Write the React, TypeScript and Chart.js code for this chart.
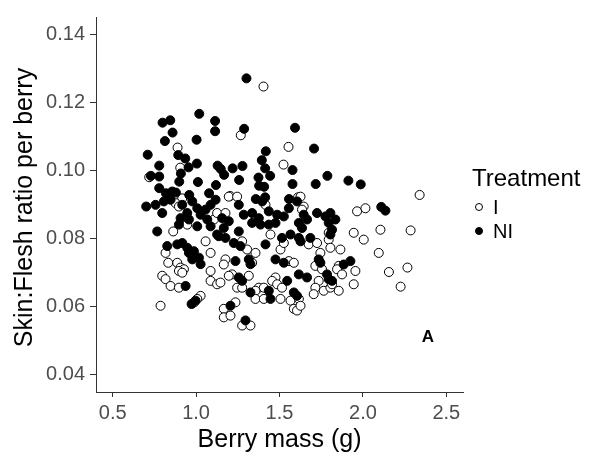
import React, { useEffect, useRef } from "react";
import { Chart, registerables } from "chart.js";

Chart.register(...registerables);

const xTicks = [0.5, 1.0, 1.5, 2.0, 2.5];
const yTicks = [0.04, 0.06, 0.08, 0.1, 0.12, 0.14];
const legendTitle = "Treatment";
const seriesNames = ["I", "NI"];
const xTitle = "Berry mass (g)";
const yTitle = "Skin:Flesh ratio per berry";
const panelLabel = "A";
const panelLabelPos = [2.39, 0.051];

// Treatment I (open circles)
const iMass = [
  0.889, 0.905, 0.719, 1.204, 1.268, 1.404, 1.554, 1.524, 1.611, 2.34,
  0.917, 0.877, 0.897, 0.947, 0.863, 1.057, 1.087, 1.107, 1.126, 0.817,
  0.833, 0.887, 0.907, 0.927, 0.897, 0.917, 0.797, 0.817, 0.847, 0.897,
  1.087, 1.087, 1.126, 0.787, 1.027, 1.007, 0.989, 1.196, 1.246, 1.176,
  1.416, 1.446, 1.276, 1.306, 1.356, 1.506, 1.526, 1.176, 1.166, 1.216,
  1.336, 1.556, 1.586, 1.476, 1.456, 1.486, 1.376, 1.406, 1.356, 1.146,
  1.196, 1.246, 1.276, 1.316, 1.515, 1.356, 1.406, 1.506, 1.566, 1.586,
  1.605, 1.166, 1.166, 1.206, 1.276, 1.326, 1.236, 1.626, 1.645, 1.635,
  1.965, 2.015, 1.945, 2.005, 1.795, 1.795, 1.805, 1.865, 1.675, 1.725,
  1.745, 2.095, 2.105, 1.715, 1.755, 1.855, 1.845, 1.955, 1.945, 1.735,
  1.715, 1.705, 1.765, 1.805, 1.855, 1.815, 1.875, 1.616, 1.626, 2.286,
  2.156, 2.267, 2.226,
];
const iRatio = [
  0.1067, 0.1008, 0.098, 0.0925, 0.1103, 0.1246, 0.1069, 0.1017, 0.0921, 0.0928,
  0.0918, 0.0904, 0.0894, 0.0841, 0.0821, 0.0792, 0.0758, 0.0856, 0.0875, 0.0758,
  0.0729, 0.0729, 0.0715, 0.071, 0.0705, 0.07, 0.0691, 0.0681, 0.0661, 0.0656,
  0.0705, 0.0676, 0.0666, 0.0603, 0.0632, 0.0623, 0.0613, 0.0923, 0.0923, 0.0875,
  0.0899, 0.0812, 0.0792, 0.0768, 0.0758, 0.0768, 0.0787, 0.0739, 0.0724, 0.0695,
  0.0729, 0.0734, 0.0729, 0.0686, 0.0676, 0.0666, 0.0656, 0.0656, 0.0647, 0.0671,
  0.0691, 0.0656, 0.0656, 0.0691, 0.0656, 0.0623, 0.0623, 0.0623, 0.0618, 0.0594,
  0.0589, 0.0594, 0.0569, 0.0574, 0.0545, 0.0545, 0.0613, 0.0923, 0.0894, 0.0885,
  0.088, 0.0889, 0.0817, 0.0797, 0.0817, 0.0797, 0.0773, 0.0768, 0.0783, 0.0787,
  0.0758, 0.0758, 0.0826, 0.072, 0.071, 0.072, 0.071, 0.0705, 0.0666, 0.0676,
  0.0656, 0.0637, 0.0647, 0.0656, 0.0647, 0.0666, 0.0695, 0.0623, 0.0603, 0.0824,
  0.0702, 0.0715, 0.0659,
];

// Treatment NI (filled circles)
const niMass = [
  1.019, 0.799, 0.845, 1.114, 1.114, 0.859, 0.813, 1.003, 0.71, 0.893,
  0.935, 0.779, 1.005, 0.955, 1.129, 1.148, 1.219, 0.729, 0.779, 0.909,
  0.899, 1.011, 1.168, 1.119, 1.258, 0.779, 0.819, 0.879, 0.959, 1.078,
  1.302, 1.288, 1.593, 1.418, 1.707, 1.394, 1.414, 1.278, 1.578, 1.374,
  1.444, 1.787, 1.378, 1.408, 1.578, 1.717, 1.358, 1.414, 1.557, 1.913,
  1.987, 0.701, 0.757, 0.807, 0.847, 0.797, 0.767, 0.857, 0.977, 0.917,
  0.947, 1.007, 1.027, 1.057, 1.087, 1.117, 0.907, 0.897, 0.957, 1.007,
  1.067, 1.087, 1.126, 0.827, 0.887, 0.917, 0.947, 0.957, 0.987, 0.977,
  1.017, 1.027, 0.937, 0.973, 0.997, 1.396, 1.256, 1.286, 1.336, 1.376,
  1.436, 1.486, 1.526, 1.556, 1.605, 1.156, 1.196, 1.166, 1.336, 1.386,
  1.436, 1.476, 1.256, 1.226, 1.266, 1.416, 1.136, 1.176, 1.515, 1.566,
  1.616, 1.236, 1.316, 1.326, 1.476, 1.526, 1.256, 1.276, 1.326, 1.436,
  1.446, 1.546, 1.586, 1.605, 1.206, 1.296, 1.645, 1.665, 1.616, 1.635,
  1.725, 1.775, 1.805, 1.835, 1.795, 1.815, 1.805, 1.685, 1.626, 2.11,
  2.135, 1.735, 1.745, 1.925, 1.885, 1.785, 1.795, 1.815, 1.665, 1.616,
];
const niRatio = [
  0.1166, 0.114, 0.1147, 0.1145, 0.1115, 0.1111, 0.1086, 0.109, 0.1046, 0.1045,
  0.1035, 0.1014, 0.102, 0.1009, 0.1014, 0.1004, 0.1006, 0.0984, 0.0982, 0.0991,
  0.0967, 0.0966, 0.0987, 0.0957, 0.0972, 0.0948, 0.0933, 0.0935, 0.0928, 0.0933,
  0.127, 0.1122, 0.1125, 0.1056, 0.1064, 0.103, 0.1006, 0.1013, 0.1001, 0.0979,
  0.0984, 0.0984, 0.0955, 0.0952, 0.096, 0.096, 0.0916, 0.0921, 0.0916, 0.097,
  0.0959, 0.0894, 0.0899, 0.0909, 0.0914, 0.0875, 0.0821, 0.0938, 0.0909, 0.0899,
  0.0875, 0.0889, 0.087, 0.0885, 0.0899, 0.0914, 0.086, 0.0841, 0.0856, 0.0836,
  0.0856, 0.0836, 0.0812, 0.0778, 0.0783, 0.0787, 0.0773, 0.0758, 0.0763, 0.0739,
  0.0744, 0.0725, 0.0661, 0.0608, 0.0618, 0.0909, 0.0899, 0.087, 0.0875, 0.086,
  0.088, 0.087, 0.0865, 0.0889, 0.0909, 0.086, 0.0851, 0.0831, 0.0846, 0.0841,
  0.0841, 0.0846, 0.0821, 0.0787, 0.0778, 0.0783, 0.0807, 0.0802, 0.0802, 0.0812,
  0.0802, 0.0734, 0.0739, 0.0725, 0.0739, 0.0729, 0.0686, 0.0676, 0.0642, 0.0647,
  0.0623, 0.0676, 0.0642, 0.0632, 0.0603, 0.056, 0.087, 0.0856, 0.0846, 0.0831,
  0.0875, 0.0865, 0.0875, 0.0856, 0.0846, 0.0826, 0.0812, 0.0802, 0.0792, 0.0893,
  0.0882, 0.0739, 0.0729, 0.0734, 0.0724, 0.0695, 0.0681, 0.0676, 0.0686, 0.0695,
];

const FONT = '"Liberation Sans", Arial, sans-serif';

export default function App() {
  const ref = useRef<HTMLCanvasElement>(null);

  useEffect(() => {
    document.body.style.margin = "0";
    const canvas = ref.current;
    if (!canvas) return;

    const textPlugin = {
      id: "textPlugin",
      afterDraw(chart: any) {
        const ctx = chart.ctx;
        const area = chart.chartArea;
        ctx.save();
        ctx.fillStyle = "#000";
        // x title
        ctx.font = `25px ${FONT}`;
        ctx.textAlign = "center";
        ctx.textBaseline = "alphabetic";
        ctx.fillText(xTitle, (area.left + area.right) / 2, 447);
        // y title
        ctx.save();
        ctx.translate(32, (area.top + area.bottom) / 2 + 3);
        ctx.rotate(-Math.PI / 2);
        ctx.fillText(yTitle, 0, 0);
        ctx.restore();
        // panel label
        ctx.font = `bold 17px ${FONT}`;
        ctx.textAlign = "center";
        ctx.textBaseline = "middle";
        ctx.fillText(
          panelLabel,
          chart.scales.x.getPixelForValue(panelLabelPos[0]),
          chart.scales.y.getPixelForValue(panelLabelPos[1])
        );
        // legend
        ctx.textAlign = "left";
        ctx.textBaseline = "alphabetic";
        ctx.font = `24px ${FONT}`;
        ctx.fillText(legendTitle, 472, 186);
        ctx.font = `20px ${FONT}`;
        ctx.textBaseline = "middle";
        const rows = [207, 231];
        seriesNames.forEach((name, i) => {
          const cy = rows[i];
          ctx.beginPath();
          ctx.arc(479, cy, 3.5, 0, Math.PI * 2);
          ctx.fillStyle = i === 0 ? "#fff" : "#000";
          ctx.fill();
          ctx.lineWidth = 1;
          ctx.strokeStyle = "#000";
          ctx.stroke();
          ctx.fillStyle = "#000";
          ctx.fillText(name, 493, cy + 1);
        });
        ctx.restore();
      },
    };

    const chart = new Chart(canvas, {
      type: "scatter",
      data: {
        datasets: [
          {
            label: seriesNames[0],
            data: iMass.map((x, i) => ({ x, y: iRatio[i] })),
            backgroundColor: "#fff",
            borderColor: "#000",
            pointRadius: 4.5,
            pointBorderWidth: 1,
            order: 2,
          },
          {
            label: seriesNames[1],
            data: niMass.map((x, i) => ({ x, y: niRatio[i] })),
            backgroundColor: "#000",
            borderColor: "#000",
            pointRadius: 4.5,
            pointBorderWidth: 1,
            order: 1,
          },
        ],
      },
      options: {
        animation: false,
        responsive: false,
        events: [],
        layout: { padding: { left: 0, right: 134, top: 14, bottom: 0 } },
        plugins: { legend: { display: false }, tooltip: { enabled: false } },
        scales: {
          x: {
            type: "linear",
            min: 0.4,
            max: 2.6,
            afterBuildTicks: (s: any) => {
              s.ticks = xTicks.map((v) => ({ value: v }));
            },
            afterFit: (s: any) => {
              s.height = 66;
            },
            grid: {
              drawOnChartArea: false,
              drawTicks: true,
              tickLength: 5,
              color: "#333",
              lineWidth: 1,
            },
            border: { display: true, color: "#333", width: 1 },
            ticks: {
              color: "#4d4d4d",
              font: { family: FONT, size: 20 },
              padding: 4,
              maxRotation: 0,
              autoSkip: false,
              callback: (v: any) => Number(v).toFixed(1),
            },
          },
          y: {
            type: "linear",
            min: 0.035,
            max: 0.145,
            afterBuildTicks: (s: any) => {
              s.ticks = yTicks.map((v) => ({ value: v }));
            },
            afterFit: (s: any) => {
              s.width = 96;
            },
            grid: {
              drawOnChartArea: false,
              drawTicks: true,
              tickLength: 6,
              color: "#333",
              lineWidth: 1,
            },
            border: { display: true, color: "#333", width: 1 },
            ticks: {
              color: "#4d4d4d",
              font: { family: FONT, size: 20 },
              padding: 5,
              autoSkip: false,
              callback: (v: any) => Number(v).toFixed(2),
            },
          },
        },
      },
      plugins: [textPlugin],
    });

    return () => chart.destroy();
  }, []);

  return (
    <div style={{ width: 597, height: 458, background: "#fff" }}>
      <canvas ref={ref} width={597} height={458} style={{ display: "block" }} />
    </div>
  );
}
